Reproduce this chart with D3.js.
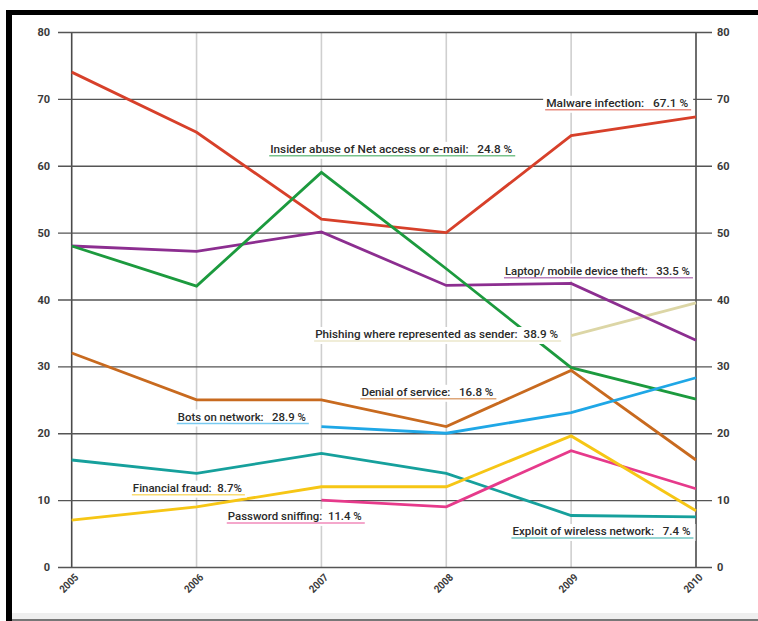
<!DOCTYPE html>
<html>
<head>
<meta charset="utf-8">
<script src="https://cdn.jsdelivr.net/npm/d3@7"></script>
<style>
  html, body { margin: 0; padding: 0; background: #fff; }
  svg { display: block; }
  .lbl { font-family: Roboto, "Liberation Sans", sans-serif; white-space: pre; }
</style>
</head>
<body>
<svg id="chart" width="758" height="621"></svg>
<script>
// ---- data ----
const years = [2005, 2006, 2007, 2008, 2009, 2010];
const malware   = [74, 65, 52, 50, 64.5, 67.3];
const insider   = [48, 42, 59, 44.6, 29.8, 25.1];
const laptop    = [48, 47.2, 50.1, 42.1, 42.4, 33.9];
const denial    = [32, 25, 25, 21, 29.4, 16];
const bots      = [null, null, 21, 20, 23.1, 28.3];
const wireless  = [16, 14, 17, 14, 7.7, 7.5];
const fraud     = [7, 9, 12, 12, 19.6, 8.4];
const sniffing  = [null, null, 10, 9, 17.4, 11.7];
const phishing  = [null, null, null, null, 34.6, 39.5];
const yTicks = [0, 10, 20, 30, 40, 50, 60, 70, 80];

const labelTexts = {
  insider:  "Insider abuse of Net access or e-mail:   24.8 %",
  malware:  "Malware infection:   67.1 %",
  laptop:   "Laptop/ mobile device theft:   33.5 %",
  phishing: "Phishing where represented as sender:  38.9 %",
  denial:   "Denial of service:   16.8 %",
  bots:     "Bots on network:   28.9 %",
  fraud:    "Financial fraud:  8.7%",
  sniffing: "Password sniffing:  11.4 %",
  wireless: "Exploit of wireless network:   7.4 %"
};

// ---- styling / layout ----
const colors = {
  malware: "#d7402a", insider: "#1c9a3e", laptop: "#8c2e90", denial: "#c86a1f",
  bots: "#1fa7e6", wireless: "#16a09c", fraud: "#f6c615", sniffing: "#e63a8b", phishing: "#dcd6a6"
};
const seriesOrder = [
  ["phishing", phishing], ["laptop", laptop], ["malware", malware], ["insider", insider],
  ["denial", denial], ["bots", bots], ["wireless", wireless], ["sniffing", sniffing], ["fraud", fraud]
];
// label anchors in data coordinates (year, value) = left end of text, baseline
const labelPos = {
  insider:  [2006.59, 61.93],
  malware:  [2008.80, 68.82],
  laptop:   [2008.47, 43.71],
  phishing: [2006.95, 34.24],
  denial:   [2007.32, 25.6],
  bots:     [2005.85, 21.9],
  fraud:    [2005.49, 11.27],
  sniffing: [2006.25, 7.04],
  wireless: [2008.53, 4.79]
};
const labelWidth = {
  insider: 242, malware: 142, laptop: 185, phishing: 243, denial: 132,
  bots: 128, fraud: 109, sniffing: 134, wireless: 178
};

const svg = d3.select("#chart");
svg.append("rect").attr("width", 758).attr("height", 621).attr("fill", "#fff");

const x = d3.scaleLinear().domain([2005, 2010]).range([71.7, 696]);
const y = d3.scaleLinear().domain([0, 80]).range([567, 32]);

// vertical grid lines
svg.append("g").selectAll("line").data(years).join("line")
  .attr("x1", d => x(d)).attr("x2", d => x(d))
  .attr("y1", y(80)).attr("y2", y(0))
  .attr("stroke", d => (d === 2005 || d === 2010) ? "#4a4a4a" : "#cfcfcf")
  .attr("stroke-width", 1.6);

// horizontal grid lines + left labels
const yAxisL = d3.axisLeft(y).tickValues(yTicks).tickSize(-(712 - 58)).tickPadding(8).tickFormat(d3.format("d"));
const gL = svg.append("g").attr("transform", "translate(58,0)").call(yAxisL);
gL.select(".domain").remove();
gL.selectAll(".tick line").attr("stroke", "#555").attr("stroke-width", 1.3);
gL.selectAll(".tick text").attr("class", "lbl").attr("font-size", 11).attr("font-weight", "bold").attr("fill", "#3a3a3a");

const yAxisR = d3.axisRight(y).tickValues(yTicks).tickSize(0).tickPadding(5).tickFormat(d3.format("d"));
const gR = svg.append("g").attr("transform", "translate(712,0)").call(yAxisR);
gR.select(".domain").remove();
gR.selectAll(".tick text").attr("class", "lbl").attr("font-size", 11).attr("font-weight", "bold").attr("fill", "#3a3a3a");

// x axis labels
const xAxis = d3.axisBottom(x).tickValues(years).tickSize(0).tickFormat(d3.format("d"));
const gX = svg.append("g").attr("transform", `translate(0,${y(0)})`).call(xAxis);
gX.select(".domain").remove();
gX.selectAll(".tick text")
  .attr("class", "lbl").attr("font-size", 10.5).attr("font-weight", "bold").attr("fill", "#3a3a3a")
  .attr("text-anchor", "end").attr("y", 0).attr("dy", 0)
  .attr("textLength", 22).attr("lengthAdjust", "spacingAndGlyphs")
  .attr("transform", "translate(7,11) rotate(-45)");

// series lines
const line = d3.line()
  .defined(d => d[1] !== null)
  .x(d => x(d[0])).y(d => y(d[1]));
svg.append("g").selectAll("path").data(seriesOrder).join("path")
  .attr("d", d => line(years.map((yr, i) => [yr, d[1][i]])))
  .attr("fill", "none")
  .attr("stroke", d => colors[d[0]])
  .attr("stroke-width", 2.8)
  .attr("stroke-linejoin", "miter");

// labels
const gLab = svg.append("g");
Object.keys(labelTexts).forEach(k => {
  const px = x(labelPos[k][0]), py = y(labelPos[k][1]);
  const g = gLab.append("g");
  const w = labelWidth[k];
  g.append("rect").attr("x", px - 3).attr("y", py - 11).attr("width", w + 8).attr("height", 17).attr("fill", "#fff");
  g.append("text").attr("class", "lbl").attr("x", px).attr("y", py)
    .attr("font-size", 11).attr("font-weight", 500).attr("fill", "#2a2a2a")
    .attr("textLength", w).attr("lengthAdjust", "spacingAndGlyphs")
    .text(labelTexts[k]);
  g.append("line").attr("x1", px - 1).attr("x2", px + w + 3)
    .attr("y1", py + 3).attr("y2", py + 3)
    .attr("stroke", colors[k]).attr("stroke-opacity", 0.6).attr("stroke-width", 1.5);
});

// frame
svg.append("rect").attr("x", 6).attr("y", 10).attr("width", 752).attr("height", 5).attr("fill", "#000");
svg.append("rect").attr("x", 6).attr("y", 10).attr("width", 6).attr("height", 611).attr("fill", "#000");
svg.append("rect").attr("x", 12).attr("y", 613).attr("width", 746).attr("height", 8).attr("fill", "#efefef");
svg.append("rect").attr("x", 12).attr("y", 619).attr("width", 746).attr("height", 2).attr("fill", "#777");
</script>
</body>
</html>
